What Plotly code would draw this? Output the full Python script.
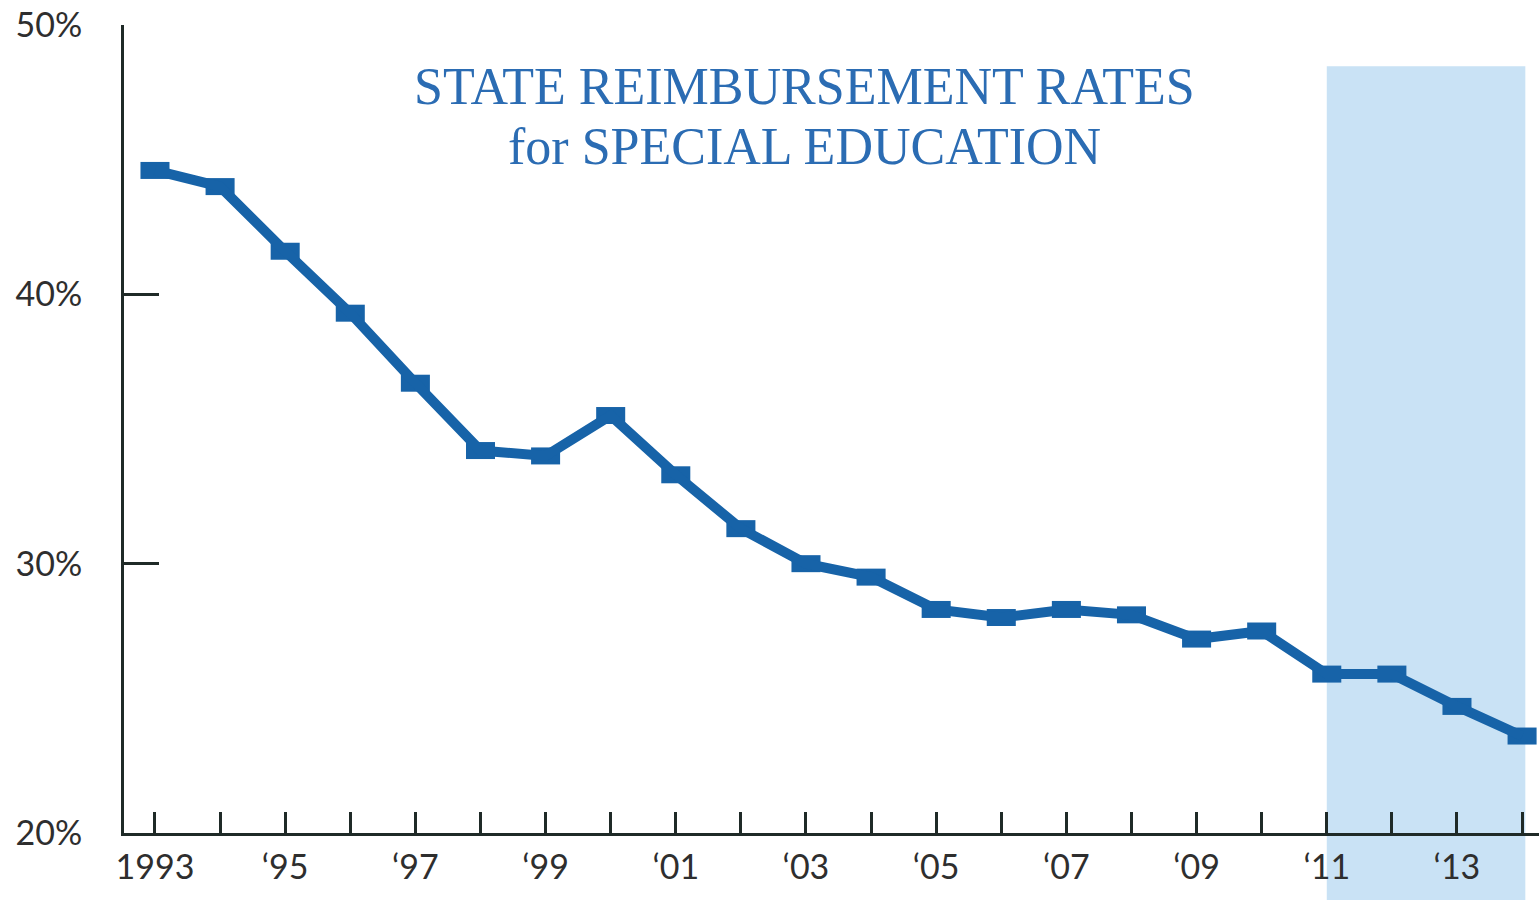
import plotly.graph_objects as go

years = list(range(1993, 2015))
rates = [44.6, 44.0, 41.6, 39.3, 36.7, 34.2, 34.0, 35.5, 33.3, 31.3, 30.0,
         29.5, 28.3, 28.0, 28.3, 28.1, 27.2, 27.5, 25.9, 25.9, 24.7, 23.6]
x_tick_text = ["1993", "", "\u201895", "", "\u201897", "", "\u201899", "",
               "\u201801", "", "\u201803", "", "\u201805", "", "\u201807", "",
               "\u201809", "", "\u201811", "", "\u201813", ""]
y_tick_vals = [20, 30, 40, 50]
y_tick_text = ["20%", "30%", "40%", "50%"]
shade_start, shade_end = 2011.0, 2014.05
title_line1 = "STATE REIMBURSEMENT RATES"
title_line2 = "for SPECIAL EDUCATION"

LINE_COLOR = "#1763a8"
AXIS_COLOR = "#1f2a27"
TEXT_COLOR = "#2e2e2e"
TITLE_COLOR = "#2b6cb3"

fig = go.Figure()
fig.add_trace(go.Scatter(
    x=years, y=rates, mode="lines",
    line=dict(color=LINE_COLOR, width=10),
    error_x=dict(type="constant", value=0.223, width=0, thickness=17,
                 color=LINE_COLOR),
    hoverinfo="skip", showlegend=False,
))

fig.add_shape(type="rect", xref="x", yref="paper",
              x0=shade_start, x1=shade_end, y0=-0.083, y1=0.949,
              fillcolor="#c9e2f5", line=dict(width=0), layer="below")

fig.add_annotation(text=title_line1, xref="paper", yref="paper",
                   x=0.4806, y=(833 - 87) / 808, xanchor="center", yanchor="middle",
                   showarrow=False,
                   font=dict(family="Liberation Serif", size=52, color=TITLE_COLOR))
fig.add_annotation(text=title_line2, xref="paper", yref="paper",
                   x=0.4806, y=(833 - 146) / 808, xanchor="center", yanchor="middle",
                   showarrow=False,
                   font=dict(family="Liberation Serif", size=52, color=TITLE_COLOR))

fig.update_layout(
    width=1539, height=900,
    margin=dict(l=124, r=0, t=25, b=67),
    plot_bgcolor="white", paper_bgcolor="white",
    xaxis=dict(range=[1992.524, 2014.26], tickvals=years, ticktext=x_tick_text,
               ticks="inside", ticklen=21, tickwidth=3, tickcolor=AXIS_COLOR,
               showline=True, linewidth=3, linecolor=AXIS_COLOR,
               showgrid=False, zeroline=False, ticklabelstandoff=2,
               tickfont=dict(family="Lato", size=34, color=TEXT_COLOR)),
    yaxis=dict(range=[20, 50], tickvals=y_tick_vals, ticktext=y_tick_text,
               ticks="inside", ticklen=35, tickwidth=3, tickcolor=AXIS_COLOR,
               showline=True, linewidth=3, linecolor=AXIS_COLOR,
               showgrid=False, zeroline=False, ticklabelstandoff=32,
               tickfont=dict(family="Lato", size=34, color=TEXT_COLOR)),
)

fig.write_html("out.html")
